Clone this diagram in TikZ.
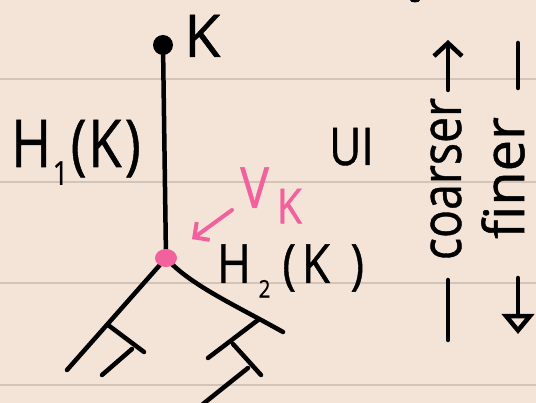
\documentclass[tikz,border=0pt]{standalone}
\usepackage{fontspec}
\setmainfont{Open Sans}[FakeBold=0.8]
\usepackage{tikz}
\usetikzlibrary{arrows.meta, positioning, shapes.geometric}

\definecolor{paper}{HTML}{F4E4D8}
\definecolor{ruling}{HTML}{D2C4B8}
\definecolor{vkpink}{HTML}{F2609E}

\newcommand{\hsub}[2][0.5]{\raisebox{-0.27em}{\scalebox{#1}{#2}}}

\begin{document}
\begin{tikzpicture}[x=1pt,y=-1pt,
        ink/.style={line width=4.5pt,line cap=round,line join=round},
        point/.style={fill,shape=circle,inner sep=0pt,outer sep=0pt,minimum size=20pt},
        hand/.style={inner sep=0pt,font=\fontsize{#1}{#1}\selectfont},
        rule/.style={draw=ruling,line width=2pt}]
        \useasboundingbox (0,0) rectangle (536,403);
        \fill[paper] (0,0) rectangle (536,403);
        \foreach \ry in {79,182,283,385}
            \draw[rule] (0,\ry) -- (536,\ry);
        \fill (415,0) ellipse (5 and 2.5);

        % the tree
        \coordinate (k) at (163,45);
        \coordinate (v) at (166,258);
        \coordinate (l) at (67,370);
        \coordinate (r) at (283,332);
        \coordinate (lfork) at (108,325);
        \coordinate (rfork) at (258,320);
        \coordinate (rrfork) at (233,344);
        \draw[ink] (k) -- (v);
        \draw[ink] (v) -- (l);
        \draw[ink] (v) .. controls (190,285) and (235,305) .. (r);
        \draw[ink] (lfork) -- (144,352);
        \draw[ink] (132,349) -- (102,375);
        \draw[ink] (rfork) -- (208,358);
        \draw[ink] (rrfork) -- (261,375);
        \draw[ink] (248,368) -- (203,404);
        \node[point] (kdot) at (k) {};
        \node[point,vkpink,shape=ellipse,minimum width=22pt,minimum height=18pt] (vdot) at (v) {};

        % labels
        \node[hand=59,anchor=base west] (klabel) at (184,57) {K};
        \node[hand=66,xscale=0.82,anchor=base west] (h1) at (11,167) {H\kern2pt\hsub{1}\kern3pt(\kern2pt K\kern4pt)};
        \node[hand=52,xscale=0.85,anchor=base west] (ul) at (329,165) {UI};
        \node[hand=54,xscale=0.85,anchor=base west] (h2) at (217,283) {H\kern9pt\hsub[0.45]{2}\kern14pt(\kern7pt K\kern24pt)};
        \node[hand=57,xscale=0.85,anchor=base west,vkpink] (vklabel) at (240,208) {V\kern9pt\raisebox{-0.27em}{\scalebox{0.85}{K}}};
        \draw[ink,vkpink,line width=4pt,shorten >=22pt,-{Straight Barb[length=11pt,width=22pt]}] (232,210) -- (vdot);

        % coarser / finer
        \node[hand=56,rotate=90,xscale=0.83] (coarser) at (446,179) {coarser};
        \node[hand=56,rotate=90] (finer) at (503,178) {finer};
        \draw[ink,-{Straight Barb[length=13pt,width=28pt]}] (448,90) -- (448,40);
        \draw[ink] (448,280) -- (448,340);
        \draw[ink] (518,43) -- (518,88);
        \draw[ink,-{Triangle[open,length=20pt,width=32pt]}] (518,278) -- (518,334);
    \end{tikzpicture}
\end{document}
